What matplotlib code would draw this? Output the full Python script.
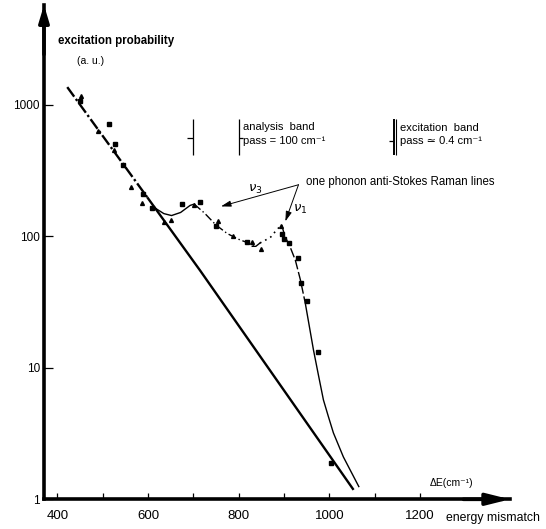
import matplotlib
matplotlib.use("Agg")
import matplotlib.pyplot as plt
import numpy as np

plt.rcParams['font.family'] = ['Liberation Sans', 'DejaVu Sans']

# measured points: squares and triangles (energy mismatch, excitation probability)
sq_x = [451, 515, 527, 546, 590, 610, 676, 715, 750, 819, 896, 899, 911, 930, 938, 950, 976, 1004]
sq_y = [1075, 718, 506, 352, 211, 164, 176, 184, 120, 90, 104, 96, 89, 68, 44.5, 32, 13.3, 1.9]
tri_x = [452, 490, 525, 562, 586, 636, 650, 702, 755, 787, 830, 849, 893]
tri_y = [1172, 638, 455, 238, 179, 129, 134, 172, 130, 100, 90, 80, 119]

# straight background line (dash-dot upper part, solid lower part)
bg_upper_x = [422, 600]
bg_upper_y = [1366, 195]
bg_lower_x = [600, 715, 1052]
bg_lower_y = [195, 55, 1.2]

# fitted curve with the two Raman lines, split by line style
c1_x = [616, 635, 652, 672, 693, 702]
c1_y = [164, 149, 144, 152, 172, 176]
c2_x = [702, 725, 750, 775, 800, 818, 835]
c2_y = [176, 150, 122, 105, 95, 90, 85]
c3_x = [830, 838, 847]
c3_y = [84, 84, 89]
c4_x = [847, 860, 871, 880, 891, 895]
c4_y = [89, 94, 99, 108, 119, 122]
c5_x = [895, 902, 913, 925, 936, 947]
c5_y = [122, 100, 84, 66, 47, 31]
c6_x = [947, 965, 976, 987, 998, 1009, 1031, 1065]
c6_y = [31, 13.7, 8.8, 5.7, 4.25, 3.2, 2.1, 1.25]

xticks = [400, 500, 600, 700, 800, 900, 1000, 1100, 1200]
xlabels = ['400', '', '600', '', '800', '', '1000', '', '1200']
yticks = [1, 10, 100, 1000]
ylabels = ['1', '10', '100', '1000']

W, H = 546, 529
fig = plt.figure(figsize=(W / 100, H / 100), dpi=100)
ax = fig.add_axes([44 / W, 29.7 / H, 466 / W, 494.3 / H])
ax.set_yscale('log')
ax.set_xlim(370.7, 1398.5)
ax.set_ylim(1, 5754)

for s in ['top', 'right']:
    ax.spines[s].set_visible(False)
for s in ['left', 'bottom']:
    ax.spines[s].set_linewidth(2.6)

ax.set_xticks(xticks)
ax.set_xticklabels(xlabels, fontsize=9.5)
ax.set_yticks(yticks)
ax.set_yticklabels(ylabels, fontsize=8.5)
ax.yaxis.set_minor_locator(matplotlib.ticker.NullLocator())
ax.tick_params(axis='x', direction='in', length=4.5, width=0.9, pad=8)
ax.tick_params(axis='y', direction='in', length=6.5, width=0.9, pad=3)

# axis arrows
ax.annotate('', xy=(1, 0), xytext=(0.9, 0), xycoords='axes fraction',
            arrowprops=dict(arrowstyle='-|>,head_length=1.4,head_width=0.35',
                            lw=2.6, color='k', shrinkA=0, shrinkB=0))
ax.annotate('', xy=(0, 1), xytext=(0, 0.9), xycoords='axes fraction',
            arrowprops=dict(arrowstyle='-|>,head_length=1.0,head_width=0.3',
                            lw=2.6, color='k', shrinkA=0, shrinkB=0))

ax.plot(bg_upper_x, bg_upper_y, color='k', lw=1.7, linestyle=(0, (5, 1.2, 1, 1.2)))
ax.plot(bg_lower_x, bg_lower_y, color='k', lw=1.7)

ax.plot(c1_x, c1_y, color='k', lw=1.0)
ax.plot(c2_x, c2_y, color='k', lw=1.0, linestyle=(0, (6, 2, 1, 2)))
ax.plot(c3_x, c3_y, color='k', lw=1.0)
ax.plot(c4_x, c4_y, color='k', lw=1.2, linestyle=(0, (1, 2.5)))
ax.plot(c5_x, c5_y, color='k', lw=1.0, linestyle=(0, (7, 2)))
ax.plot(c6_x, c6_y, color='k', lw=1.0)

ax.plot(sq_x, sq_y, 's', color='k', ms=3.2, clip_on=False)
ax.plot(tri_x, tri_y, '^', color='k', ms=2.8, clip_on=False)

# band pass markers
ax.vlines([700, 800], 417, 780, color='k', lw=0.9)
ax.hlines(565, 687, 700, color='k', lw=0.9)
ax.hlines(565, 800, 810, color='k', lw=0.9)
ax.vlines(1143.5, 417, 780, color='k', lw=1.4)
ax.vlines(1147, 417, 780, color='k', lw=0.8)
ax.hlines(530, 1132, 1143.5, color='k', lw=0.9)

ax.text(810, 680, 'analysis  band', fontsize=8, va='center', ha='left')
ax.text(810, 530, 'pass = 100 cm⁻¹', fontsize=8, va='center', ha='left')
ax.text(1155, 670, 'excitation  band', fontsize=8, va='center', ha='left')
ax.text(1155, 530, 'pass ≃ 0.4 cm⁻¹', fontsize=8, va='center', ha='left')

# Raman line annotations
ax.text(949, 258, 'one phonon anti-Stokes Raman lines', fontsize=8.3, va='center', ha='left')
ax.annotate('', xy=(761, 169), xytext=(932, 247),
            arrowprops=dict(arrowstyle='-|>,head_length=0.6,head_width=0.18',
                            lw=0.7, color='k', shrinkA=0, shrinkB=0))
ax.annotate('', xy=(903, 130), xytext=(932, 247),
            arrowprops=dict(arrowstyle='-|>,head_length=0.6,head_width=0.18',
                            lw=0.7, color='k', shrinkA=0, shrinkB=0))
ax.text(836, 226, r'$\nu_3$', fontsize=9.5, va='center', ha='center')
ax.text(935, 160, r'$\nu_1$', fontsize=9.5, va='center', ha='center')

fig.text(58 / W, 1 - 40.7 / H, 'excitation probability', fontsize=8.3,
         fontweight='bold', va='center', ha='left')
fig.text(77 / W, 1 - 61 / H, '(a. u.)', fontsize=7.5, va='center', ha='left')
fig.text(446 / W, 1 - 518 / H, 'energy mismatch', fontsize=8.8, va='center', ha='left')
fig.text(430 / W, 1 - 483 / H, 'ΔE(cm⁻¹)', fontsize=7.5, va='center', ha='left')

fig.savefig('out.png', dpi=100)
